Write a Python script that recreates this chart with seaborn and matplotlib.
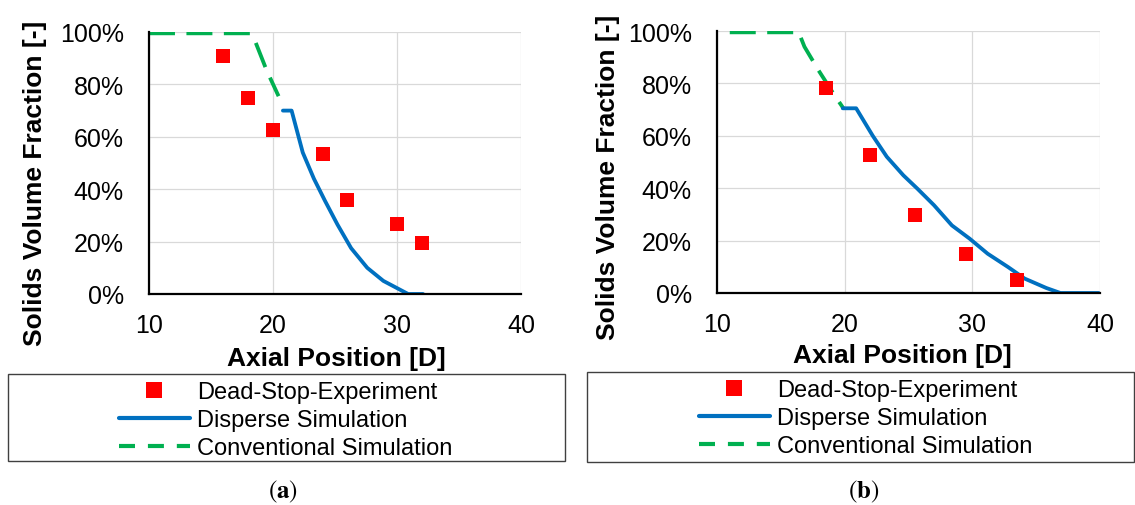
import matplotlib
matplotlib.use("Agg")
import matplotlib.pyplot as plt
import matplotlib.ticker as mticker
from matplotlib.lines import Line2D
from matplotlib.patches import Rectangle
import seaborn as sns

# ---------------- data ----------------
# panel (a)
exp_a_x = [16, 18, 20, 24, 26, 30, 32]
exp_a_y = [0.907, 0.749, 0.627, 0.534, 0.359, 0.266, 0.194]
disp_a_x = [20.8, 21.5, 22.4, 23.3, 24.2, 25.2, 26.3, 27.6, 28.9, 30.1, 30.9, 32.1]
disp_a_y = [0.700, 0.700, 0.540, 0.440, 0.355, 0.265, 0.175, 0.100, 0.050, 0.020, 0.0, 0.0]
conv_a_x = [10.0, 18.15, 18.6, 19.5, 20.45]
conv_a_y = [0.995, 0.995, 0.960, 0.852, 0.755]
# panel (b)
exp_b_x = [18.5, 22.0, 25.5, 29.5, 33.5]
exp_b_y = [0.782, 0.528, 0.299, 0.149, 0.051]
disp_b_x = [19.85, 20.9, 22.2, 23.3, 24.6, 25.7, 27.0, 28.4, 29.8, 31.2, 32.8, 34.1, 35.8, 36.9, 39.9]
disp_b_y = [0.705, 0.705, 0.600, 0.520, 0.449, 0.398, 0.335, 0.258, 0.207, 0.150, 0.099, 0.055, 0.019, 0.0, 0.0]
conv_b_x = [11.0, 16.4, 16.85, 17.95, 19.2, 19.9]
conv_b_y = [0.995, 0.995, 0.940, 0.850, 0.755, 0.705]

x_ticks = [10, 20, 30, 40]
y_ticks = [0, 0.2, 0.4, 0.6, 0.8, 1.0]
legend_labels = ["Dead-Stop-Experiment", "Disperse Simulation", "Conventional Simulation"]
x_label = "Axial Position [D]"
y_label = "Solids Volume Fraction [-]"
captions = ["a", "b"]

RED = "#FF0000"
BLUE = "#0070C0"
GREEN = "#00B050"

sns.set_theme(style="white")
plt.rcParams["font.family"] = ["Liberation Sans", "DejaVu Sans"]
plt.rcParams["mathtext.fontset"] = "stix"
plt.rcParams["text.color"] = "black"
plt.rcParams["axes.labelcolor"] = "black"
plt.rcParams["xtick.color"] = "black"
plt.rcParams["ytick.color"] = "black"

W, H = 1135, 506
fig = plt.figure(figsize=(W / 100, H / 100), dpi=100)
fig.patch.set_facecolor("white")


def px_rect(x0, y_top, x1, y_bot):
    return [x0 / W, 1 - y_bot / H, (x1 - x0) / W, (y_bot - y_top) / H]


panels = [
    dict(rect=px_rect(149, 33, 521, 295), ex=exp_a_x, ey=exp_a_y, dx=disp_a_x, dy=disp_a_y,
         cx=conv_a_x, cy=conv_a_y, ylab=(-0.3065, 0.426), xlab=(0.504, -0.245),
         box=(8, 375, 565, 462), hx=119, cap=(283, 492), cap_txt=captions[0]),
    dict(rect=px_rect(717, 32, 1100, 294), ex=exp_b_x, ey=exp_b_y, dx=disp_b_x, dy=disp_b_y,
         cx=conv_b_x, cy=conv_b_y, ylab=(-0.2846, 0.445), xlab=(0.483, -0.236),
         box=(587, 373, 1134, 463), hx=699, cap=(864, 492), cap_txt=captions[1]),
]

for p in panels:
    ax = fig.add_axes(p["rect"])
    ax.set_facecolor("white")
    sns.lineplot(x=p["cx"], y=p["cy"], ax=ax, color=GREEN, lw=2.75,
                 linestyle=(0, (6.8, 3.0)), estimator=None, sort=False, legend=False)
    sns.lineplot(x=p["dx"], y=p["dy"], ax=ax, color=BLUE, lw=2.75,
                 estimator=None, sort=False, legend=False)
    sns.scatterplot(x=p["ex"], y=p["ey"], ax=ax, color=RED, marker="s", s=115,
                    linewidth=0, legend=False, zorder=5)
    ax.set_xlim(10, 40)
    ax.set_ylim(0, 1)
    ax.set_xticks(x_ticks)
    ax.set_yticks(y_ticks)
    ax.yaxis.set_major_formatter(mticker.FuncFormatter(lambda v, _: f"{v * 100:.0f}%"))
    ax.grid(True, color="#D9D9D9", lw=0.9)
    ax.set_axisbelow(True)
    for s in ["top", "right"]:
        ax.spines[s].set_visible(False)
    for s in ["left", "bottom"]:
        ax.spines[s].set_color("black")
        ax.spines[s].set_linewidth(1.6)
        ax.spines[s].set_zorder(6)
    ax.tick_params(axis="both", direction="inout", length=11, width=1.6, color="black",
                   labelsize=18, labelcolor="black")
    ax.tick_params(axis="x", pad=8.5)
    ax.tick_params(axis="y", pad=12.6)
    ax.set_xlabel(x_label, fontsize=19, fontweight="bold", color="black")
    ax.set_ylabel(y_label, fontsize=19, fontweight="bold", color="black", va="center")
    ax.xaxis.set_label_coords(*p["xlab"])
    ax.xaxis.label.set_va("center")
    ax.yaxis.set_label_coords(*p["ylab"])

    # legend frame
    bx0, by0, bx1, by1 = p["box"]
    fig.patches.append(Rectangle((bx0 / W, 1 - by1 / H), (bx1 - bx0) / W, (by1 - by0) / H,
                                 transform=fig.transFigure, fill=False, edgecolor="#404040",
                                 lw=1.0))
    handles = [
        Line2D([], [], color=RED, marker="s", ls="none", markersize=11, markeredgewidth=0),
        Line2D([], [], color=BLUE, lw=3.0),
        Line2D([], [], color=GREEN, lw=3.0, linestyle=(0, (3.84, 3.1))),
    ]
    leg = fig.legend(handles, legend_labels, loc="upper left",
                     bbox_to_anchor=(p["hx"] / W, 1 - (by0 + 7) / H),
                     frameon=False, fontsize=17, borderpad=0, borderaxespad=0,
                     handlelength=3.0, handletextpad=0.3, labelspacing=0.25)
    for t in leg.get_texts():
        t.set_color("black")
    fig.text(p["cap"][0] / W, 1 - p["cap"][1] / H,
             r"$\mathrm{(}\mathbf{" + p["cap_txt"] + r"}\mathrm{)}$",
             ha="center", va="center", fontsize=18, color="black")

fig.savefig("out.png", dpi=100, facecolor="white")
